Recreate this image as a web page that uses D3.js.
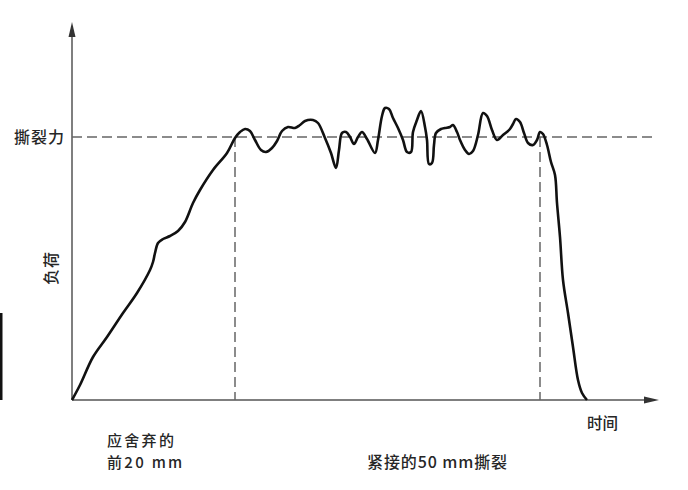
<!DOCTYPE html>
<html>
<head>
<meta charset="utf-8">
<script src="https://cdn.jsdelivr.net/npm/d3@7"></script>
<style>
  html, body { margin: 0; padding: 0; background: #fff; }
  svg { display: block; }
  .lbl { font-family: "Noto Sans CJK SC", "Noto Sans", sans-serif; font-weight: 500; fill: #262626; }
</style>
</head>
<body>
<svg id="chart" width="688" height="490"></svg>
<script>
// load curve (time and load in arbitrary units)
const timeValues = [
  0, 8, 21, 35, 51, 65, 78, 81, 83, 86, 91, 98, 106, 113, 121, 128, 141, 155, 163, 168,
  173, 178, 183, 189, 194, 200, 205, 210, 216, 223, 228, 233, 241, 246, 253, 259, 264, 267, 270, 274,
  278, 282, 286, 290, 295, 303, 306, 310, 313, 317, 321, 326, 331, 335, 339, 341, 345, 349, 353, 355,
  357, 360, 362, 364, 369, 373, 378, 381, 385, 388, 393, 397, 401, 406, 411, 415, 420, 425, 431, 438,
  441, 444, 448, 452, 456, 461, 465, 468, 471, 475, 479, 483, 485, 488, 491, 496, 501, 506, 510, 515,
];
const loadValues = [
  0, 15, 43, 63, 87, 107, 130, 138, 147, 157, 161, 164, 169, 178, 197, 210, 230, 247, 262, 268,
  271, 269, 260, 250, 248, 252, 259, 269, 273, 272, 275, 279, 280, 277, 262, 247, 232, 250, 267, 268,
  263, 256, 263, 268, 261, 247, 260, 284, 292, 291, 282, 272, 260, 248, 248, 268, 280, 289, 273, 260,
  236, 237, 255, 267, 271, 272, 273, 275, 268, 260, 250, 246, 249, 265, 287, 284, 270, 260, 265, 271,
  276, 281, 278, 267, 257, 255, 260, 268, 266, 255, 238, 225, 197, 163, 120, 87, 53, 20, 7, 0,
];
const tearForce = 263;
const tearStart = 163; // after the first 20 mm
const tearEnd = 468;   // end of the following 50 mm

const axisLabels = { y: '负荷', x: '时间', force: '撕裂力' };
const bottomLeft = ['应舍弃的', '前20 mm'];
const bottomMid = '紧接的50 mm撕裂';

const svg = d3.select('#chart');
const x0 = 72, x1 = 655, yBase = 400, yTop = 22;

const x = d3.scaleLinear().domain([0, 583]).range([x0, x0 + 583]);
const y = d3.scaleLinear().domain([0, 378]).range([yBase, yBase - 378]);

const points = timeValues.map((t, i) => ({ t, v: loadValues[i] }));

// scan artefact on the left edge
svg.append('rect').attr('x', 0).attr('y', 313).attr('width', 2.5).attr('height', 87).attr('fill', '#111');

const axisColor = '#555';

// axes
svg.append('line')
  .attr('x1', x(0)).attr('y1', y(0)).attr('x2', x(0)).attr('y2', yTop + 10)
  .attr('stroke', axisColor).attr('stroke-width', 1.5);
svg.append('line')
  .attr('x1', x(0)).attr('y1', y(0)).attr('x2', x1 - 4).attr('y2', y(0))
  .attr('stroke', axisColor).attr('stroke-width', 1.5);

// arrow heads
svg.append('path')
  .attr('d', `M${x(0)},${yTop} L${x(0) - 3.5},${yTop + 15} L${x(0) + 3.5},${yTop + 15} Z`)
  .attr('fill', '#333');
svg.append('path')
  .attr('d', `M${x1 + 4},${y(0)} L${x1 - 11},${y(0) - 3.5} L${x1 - 11},${y(0) + 3.5} Z`)
  .attr('fill', '#333');

// dashed reference lines
const dash = '10,5';
svg.append('line')
  .attr('x1', x(0)).attr('x2', x1).attr('y1', y(tearForce)).attr('y2', y(tearForce))
  .attr('stroke', '#666').attr('stroke-width', 1.5).attr('stroke-dasharray', dash);
[tearStart, tearEnd].forEach((t) => {
  svg.append('line')
    .attr('x1', x(t)).attr('x2', x(t)).attr('y1', y(tearForce)).attr('y2', y(0))
    .attr('stroke', '#666').attr('stroke-width', 1.5).attr('stroke-dasharray', dash);
});

// load curve
const line = d3.line()
  .x((d) => x(d.t))
  .y((d) => y(d.v))
  .curve(d3.curveCatmullRom.alpha(0.5));

svg.append('path')
  .datum(points)
  .attr('d', line)
  .attr('fill', 'none')
  .attr('stroke', '#111')
  .attr('stroke-width', 2.6)
  .attr('stroke-linejoin', 'round');

// labels
svg.append('text').attr('class', 'lbl')
  .attr('x', 65).attr('y', y(tearForce)).attr('dy', '0.35em')
  .attr('text-anchor', 'end').attr('font-size', 16).attr('letter-spacing', 1)
  .text(axisLabels.force);

svg.append('text').attr('class', 'lbl')
  .attr('transform', `translate(57,268) rotate(-90)`)
  .attr('text-anchor', 'middle').attr('font-size', 16).attr('letter-spacing', 1)
  .text(axisLabels.y);

svg.append('text').attr('class', 'lbl')
  .attr('x', 587).attr('y', 424).attr('dy', '0.35em')
  .attr('font-size', 15.5)
  .text(axisLabels.x);

bottomLeft.forEach((s, i) => {
  svg.append('text').attr('class', 'lbl')
    .attr('x', 107).attr('y', 441 + i * 22).attr('dy', '0.35em')
    .attr('font-size', 15).attr('letter-spacing', 2.3)
    .text(s);
});

svg.append('text').attr('class', 'lbl')
  .attr('x', 367).attr('y', 462).attr('dy', '0.35em')
  .attr('font-size', 16).attr('letter-spacing', 0.9)
  .text(bottomMid);
</script>
</body>
</html>
